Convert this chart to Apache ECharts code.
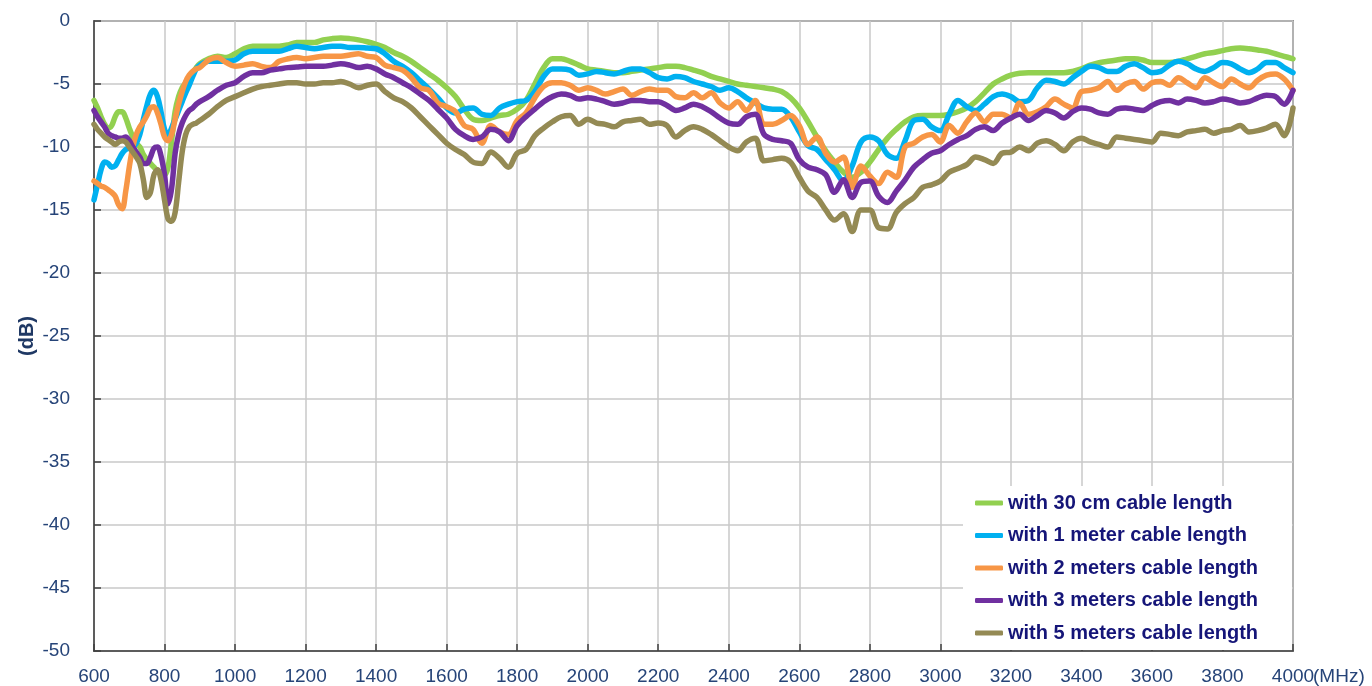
<!DOCTYPE html>
<html>
<head>
<meta charset="utf-8">
<title>Cable length comparison</title>
<script src="https://cdn.jsdelivr.net/npm/echarts@6/dist/echarts.min.js"></script>
<style>
  html, body { margin: 0; padding: 0; background: #ffffff; }
  #chart { width: 1372px; height: 686px; }
</style>
</head>
<body>
<div id="chart"></div>
<script>
// Frequency sampling grid (MHz): 10 MHz steps up to 900, then 25 MHz steps
const freqs = [
  600, 610, 620, 630, 640, 650, 660, 670, 680, 690,
  700, 710, 720, 730, 740, 750, 760, 770, 780, 790,
  800, 810, 820, 830, 840, 850, 860, 870, 880, 890, 900,
  925, 950, 975, 1000, 1025, 1050, 1075, 1100, 1125, 1150, 1175, 1200,
  1225, 1250, 1275, 1300, 1325, 1350, 1375, 1400, 1425, 1450, 1475, 1500,
  1525, 1550, 1575, 1600, 1625, 1650, 1675, 1700, 1725, 1750, 1775, 1800,
  1825, 1850, 1875, 1900, 1925, 1950, 1975, 2000, 2025, 2050, 2075, 2100,
  2125, 2150, 2175, 2200, 2225, 2250, 2275, 2300, 2325, 2350, 2375, 2400,
  2425, 2450, 2475, 2500, 2525, 2550, 2575, 2600, 2625, 2650, 2675, 2700,
  2725, 2750, 2775, 2800, 2825, 2850, 2875, 2900, 2925, 2950, 2975, 3000,
  3025, 3050, 3075, 3100, 3125, 3150, 3175, 3200, 3225, 3250, 3275, 3300,
  3325, 3350, 3375, 3400, 3425, 3450, 3475, 3500, 3525, 3550, 3575, 3600,
  3625, 3650, 3675, 3700, 3725, 3750, 3775, 3800, 3825, 3850, 3875, 3900,
  3925, 3950, 3975, 4000
];

const seriesNames = [
  'with 30 cm cable length',
  'with 1 meter cable length',
  'with 2 meters cable length',
  'with 3 meters cable length',
  'with 5 meters cable length'
];

// Measured level (dB) per cable length
const cable30cm = [
  -6.3, -6.9, -7.6, -8.2, -8.5, -8.3, -7.6, -7.2, -7.2, -7.7,
  -8.5, -9.2, -9.7, -10.0, -10.6, -11.0, -11.3, -11.6, -11.9, -12.1,
  -12.2, -11.6, -9.5, -7.2, -6.0, -5.3, -4.9, -4.5, -4.1, -3.7, -3.4,
  -3.0, -2.8, -2.9, -2.6, -2.2, -2.0, -2.0, -2.0, -2.0, -1.9, -1.7, -1.7,
  -1.7, -1.5, -1.4, -1.35, -1.4, -1.5, -1.65, -1.85, -2.1, -2.5, -2.8, -3.2,
  -3.7, -4.2, -4.7, -5.3, -6.0, -7.0, -7.8, -7.9, -7.7, -7.5, -7.4, -7.0,
  -6.3, -5.0, -3.7, -3.0, -3.0, -3.2, -3.5, -3.8, -3.9, -4.0, -4.1, -4.1,
  -4.0, -3.9, -3.8, -3.7, -3.6, -3.6, -3.7, -3.9, -4.1, -4.4, -4.6, -4.8,
  -5.0, -5.1, -5.2, -5.3, -5.4, -5.6, -6.1, -6.9, -8.0, -9.2, -10.3, -11.2,
  -12.0, -12.4, -12.0, -11.2, -10.2, -9.3, -8.6, -8.0, -7.6, -7.5, -7.5, -7.5,
  -7.4, -7.2, -6.9, -6.4, -5.7, -5.0, -4.6, -4.3, -4.15, -4.1, -4.1, -4.1,
  -4.1, -4.1, -4.0, -3.8, -3.5, -3.3, -3.2, -3.1, -3.0, -3.0, -3.1, -3.3,
  -3.3, -3.3, -3.2, -3.0, -2.8, -2.6, -2.5, -2.35, -2.2, -2.15, -2.2, -2.3,
  -2.4, -2.6, -2.8, -3.0
];

const cable1m = [
  -14.2, -13.0, -11.8, -11.2, -11.3, -11.6, -11.5, -11.0, -10.5, -10.2,
  -10.1, -10.0, -9.7, -9.0, -7.8, -6.7, -5.8, -5.5, -6.0, -7.2,
  -8.6, -9.1, -8.5, -7.8, -7.1, -6.4, -5.7, -5.1, -4.4, -3.8, -3.5,
  -3.2, -3.2, -3.2, -3.1, -2.6, -2.4, -2.4, -2.4, -2.4, -2.2, -2.0, -2.1,
  -2.2, -2.1, -2.0, -2.0, -2.1, -2.1, -2.15, -2.2, -2.6, -3.2, -3.6, -4.1,
  -4.75, -5.4, -6.1, -6.9, -7.3, -7.0, -6.9, -7.4, -7.5, -6.9, -6.6, -6.4,
  -6.3, -5.6, -4.4, -3.8, -3.8, -3.9, -4.3, -4.2, -4.0, -4.1, -4.2, -4.0,
  -3.8, -3.8, -4.1, -4.5, -4.6, -4.4, -4.5, -4.8, -5.0, -5.2, -5.5, -5.3,
  -5.6, -6.1, -6.5, -6.9, -7.0, -7.0, -7.6, -8.8, -9.9, -10.2, -11.0, -11.8,
  -12.7, -11.5, -9.6, -9.2, -9.5, -10.6, -10.9, -9.5, -7.9, -7.8, -8.4, -8.7,
  -7.4, -6.3, -6.8, -7.1, -6.6, -6.0, -5.8, -6.0, -6.4, -6.3, -5.3, -4.7,
  -4.8, -5.0, -4.5, -4.0, -3.6, -3.7, -4.0, -4.0, -3.6, -3.4, -3.7, -4.1,
  -4.0, -3.5, -3.2, -3.4, -3.8, -4.0, -3.7, -3.3, -3.4, -3.8, -4.1, -3.8,
  -3.3, -3.3, -3.7, -4.1
];

const cable2m = [
  -12.7, -12.9, -13.1, -13.2, -13.4, -13.6, -13.9, -14.6, -14.9, -13.5,
  -11.6, -10.0, -9.0, -8.4, -8.0, -7.5, -6.9, -6.8, -7.3, -8.2,
  -9.2, -9.5, -9.0, -7.8, -6.6, -5.6, -4.8, -4.3, -4.0, -3.8, -3.7,
  -3.1, -2.9, -3.3, -3.6, -3.5, -3.4, -3.6, -3.7, -3.2, -3.0, -2.9, -3.0,
  -2.9, -2.8, -2.8, -2.8, -2.7, -2.6, -2.8, -2.9, -3.5, -3.7, -3.9, -4.5,
  -5.3, -5.5, -6.5, -6.8, -7.2, -8.3, -8.6, -9.7, -8.3, -8.8, -9.0, -7.9,
  -7.3, -6.1, -5.2, -4.9, -4.9, -5.1, -5.5, -5.3, -5.5, -5.8, -5.6, -5.4,
  -5.9, -5.6, -5.4, -5.5, -5.5, -6.0, -6.1, -5.7, -6.1, -5.7, -6.5, -6.9,
  -6.4, -7.1, -6.3, -8.2, -8.2, -7.9, -7.5, -8.3, -9.8, -9.2, -10.5, -11.2,
  -10.8, -13.2, -11.5, -12.3, -12.9, -12.0, -12.4, -10.0, -9.7, -9.2, -9.0, -9.6,
  -8.3, -8.9, -8.0, -7.3, -8.0, -7.4, -7.4, -7.7, -6.5, -7.4, -7.2, -6.8,
  -6.2, -6.6, -6.9, -5.6, -5.5, -5.3, -4.8, -5.5, -5.0, -4.8, -5.4, -4.9,
  -4.8, -5.1, -4.5, -4.9, -5.3, -4.5, -4.9, -5.2, -4.6, -5.0, -5.3, -4.7,
  -4.3, -4.2, -4.6, -5.5
];

const cable3m = [
  -7.1, -7.6, -8.0, -8.4, -8.9, -9.1, -9.2, -9.3, -9.3, -9.2,
  -9.5, -10.0, -10.4, -10.8, -11.3, -11.3, -10.8, -10.1, -10.0, -10.7,
  -12.2, -14.5, -13.3, -10.5, -9.0, -8.1, -7.5, -7.1, -6.9, -6.6, -6.4,
  -6.0, -5.5, -5.1, -4.9, -4.4, -4.1, -4.1, -3.9, -3.8, -3.7, -3.65, -3.6,
  -3.6, -3.6, -3.5, -3.4, -3.5, -3.7, -3.6, -3.8, -4.2, -4.5, -4.9, -5.3,
  -5.8, -6.3, -7.0, -7.7, -8.6, -9.1, -9.4, -9.2, -8.6, -8.8, -9.5, -8.3,
  -7.6, -7.0, -6.4, -6.0, -5.8, -5.9, -6.2, -6.1, -6.2, -6.4, -6.6, -6.5,
  -6.3, -6.3, -6.4, -6.4, -6.7, -7.1, -6.9, -6.6, -6.8, -7.2, -7.7, -8.1,
  -8.2, -7.6, -7.4, -9.0, -9.4, -9.5, -9.7, -11.0, -11.6, -11.8, -12.2, -13.6,
  -12.6, -14.0, -12.8, -12.7, -13.9, -14.4, -13.5, -12.6, -11.6, -11.0, -10.5, -10.3,
  -9.8, -9.4, -9.1, -8.6, -8.4, -8.7, -8.1, -7.7, -7.4, -7.9, -7.5, -7.1,
  -7.3, -7.7, -7.2, -6.9, -7.0, -7.3, -7.4, -7.0, -6.9, -7.0, -7.1, -6.7,
  -6.4, -6.3, -6.5, -6.2, -6.3, -6.5, -6.4, -6.2, -6.3, -6.5, -6.4, -6.1,
  -5.9, -6.0, -6.6, -5.5
];

const cable5m = [
  -8.2, -8.6, -8.9, -9.2, -9.4, -9.6, -9.8, -9.6, -9.5, -9.6,
  -10.0, -10.4, -10.8, -11.3, -12.6, -14.0, -13.6, -12.2, -11.8, -12.6,
  -14.2, -15.7, -15.9, -15.2, -12.8, -10.4, -9.0, -8.4, -8.2, -8.1, -7.9,
  -7.4, -6.8, -6.3, -6.0, -5.7, -5.4, -5.2, -5.1, -5.0, -4.9, -4.9, -5.0,
  -5.0, -4.9, -4.9, -4.8, -5.0, -5.3, -5.1, -5.0, -5.6, -6.1, -6.4, -6.9,
  -7.6, -8.3, -9.0, -9.7, -10.2, -10.6, -11.2, -11.3, -10.4, -10.9, -11.6, -10.5,
  -10.2, -9.1, -8.5, -8.0, -7.6, -7.5, -8.2, -7.8, -8.1, -8.2, -8.4, -8.0,
  -7.9, -7.8, -8.2, -8.1, -8.3, -9.2, -8.7, -8.4, -8.6, -9.0, -9.5, -10.0,
  -10.3, -9.6, -9.3, -11.1, -11.0, -10.9, -11.2, -12.4, -13.5, -14.0, -15.0, -15.8,
  -15.3, -16.7, -15.0, -15.0, -16.4, -16.5, -15.2, -14.5, -14.0, -13.2, -13.0, -12.7,
  -12.0, -11.7, -11.4, -10.8, -11.0, -11.3, -10.5, -10.4, -10.0, -10.3, -9.7, -9.5,
  -9.8, -10.3, -9.6, -9.3, -9.6, -9.8, -10.0, -9.2, -9.3, -9.4, -9.5, -9.6,
  -8.9, -9.0, -9.1, -8.8, -8.7, -8.6, -8.9, -8.7, -8.6, -8.3, -8.8, -8.7,
  -8.5, -8.2, -9.1, -6.9
];

const seriesValues = [cable30cm, cable1m, cable2m, cable3m, cable5m];
const seriesColors = ['#92D050', '#00B0F0', '#F79646', '#7030A0', '#948A54'];

const labelColor = '#264478';
const frameColor = '#404040';
const gridColor = '#C8C8C8';
const labelFont = 'Liberation Sans, Arial, sans-serif';

const chart = echarts.init(document.getElementById('chart'), null, { renderer: 'canvas' });

const series = seriesNames.map((name, i) => ({
  name: name,
  type: 'line',
  smooth: 0.35,
  symbol: 'none',
  silent: true,
  data: freqs.map((f, k) => [f, seriesValues[i][k]]),
  lineStyle: { color: seriesColors[i], width: 5.5, cap: 'round', join: 'round' },
  itemStyle: { color: seriesColors[i] },
  z: 2 + i
}));

chart.setOption({
  animation: false,
  backgroundColor: '#ffffff',
  grid: {
    left: 94, right: 79, top: 21, bottom: 35,
    show: true,
    borderColor: frameColor,
    borderWidth: 1.5,
    backgroundColor: 'transparent'
  },
  xAxis: {
    type: 'value',
    min: 600,
    max: 4000,
    interval: 200,
    axisLine: { show: true, onZero: false, lineStyle: { color: frameColor, width: 1.5 } },
    axisTick: { show: true, inside: true, length: 7, lineStyle: { color: frameColor, width: 1.5 } },
    splitLine: { show: true, lineStyle: { color: gridColor, width: 1.5 } },
    axisLabel: {
      color: labelColor,
      fontFamily: labelFont,
      fontSize: 19,
      margin: 16,
      formatter: (v) => String(v)
    }
  },
  yAxis: {
    type: 'value',
    min: -50,
    max: 0,
    interval: 5,
    name: '(dB)',
    nameLocation: 'middle',
    nameGap: 57,
    nameMoveOverlap: false,
    nameRotate: 90,
    nameTextStyle: {
      color: '#1F3864',
      fontFamily: labelFont,
      fontSize: 20,
      fontWeight: 'bold'
    },
    axisLine: { show: true, onZero: false, lineStyle: { color: frameColor, width: 1.5 } },
    axisTick: { show: true, inside: true, length: 7, lineStyle: { color: frameColor, width: 1.5 } },
    splitLine: { show: true, lineStyle: { color: gridColor, width: 1.5 } },
    axisLabel: {
      color: labelColor,
      fontFamily: labelFont,
      fontSize: 19,
      margin: 24
    }
  },
  legend: {
    orient: 'vertical',
    left: 975,
    top: 493,
    padding: 0,
    itemWidth: 28,
    itemHeight: 5,
    itemGap: 12.5,
    icon: 'roundRect',
    selectedMode: false,
    z: 10,
    textStyle: {
      color: '#151578',
      fontFamily: labelFont,
      fontSize: 20,
      fontWeight: 'bold',
      lineHeight: 20
    },
    data: seriesNames
  },
  graphic: [
    {
      // white panel behind the legend, hiding the gridlines there
      type: 'rect',
      z: 9,
      silent: true,
      shape: { x: 963, y: 486, width: 329, height: 164 },
      style: { fill: '#ffffff' }
    },
    {
      type: 'text',
      z: 10,
      silent: true,
      x: 1313,
      y: 677,
      style: {
        text: '(MHz)',
        fill: labelColor,
        font: '19px "Liberation Sans", Arial, sans-serif',
        verticalAlign: 'middle',
        align: 'left'
      }
    }
  ],
  series: series
});
</script>
</body>
</html>
